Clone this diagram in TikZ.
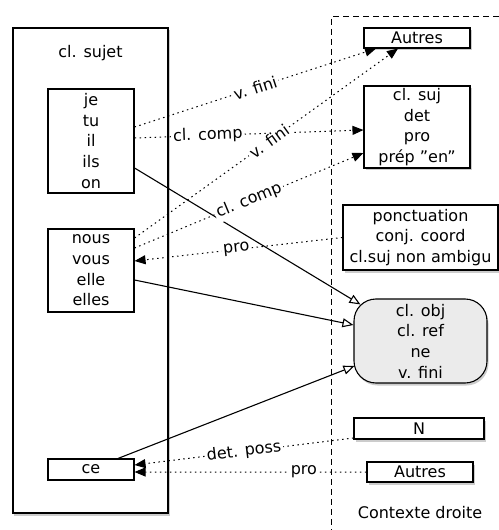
\documentclass[tikz,border=0pt]{standalone}
\usepackage{fontspec}
\setmainfont{DejaVu Sans}
\usetikzlibrary{arrows.meta,shadows}
\tikzset{
  txt/.style={font=\fontsize{16bp}{20.7bp}\selectfont},
  box/.style={txt, draw=black, line width=1.1bp, fill=white, align=center, inner sep=1bp},
  ctx/.style={box, drop shadow={shadow xshift=1.5bp, shadow yshift=-2.5bp, opacity=.4}},
  pron/.style={box, minimum width=86bp},
  dep/.style={dash pattern=on 1.5bp off 3.5bp, line width=1bp, -{Triangle[length=11bp,width=9bp]}},
  link/.style={line width=1.1bp, -{Triangle[open,length=11bp,width=9bp]}},
  lbl/.style={txt, fill=white, inner sep=2bp, sloped}
}
\begin{document}
\begin{tikzpicture}[x=1bp, y=-1bp]
\useasboundingbox (0,0) rectangle (499,530);

% contexte droite
\draw[dash pattern=on 6bp off 4bp, line width=1bp] (499,17) -- (331,17) -- (331,530);
\node[txt] (droite) at (420,513) {Contexte droite};

\node[ctx, minimum width=155bp, minimum height=485bp,
  label={[txt, anchor=north, yshift=-14bp]north:cl. sujet}] (sujet) at (90.5,270.5) {};
\node[pron, minimum height=104bp] (jeBox) at (91,141) {je\\tu\\il\\ils\\on};
\node[pron, minimum height=83bp] (nous) at (91,270.5) {nous\\vous\\elle\\elles};
\node[pron, minimum height=21bp] (ce) at (91,469.5) {ce};

\node[ctx, minimum width=106bp, minimum height=20bp] (autresA) at (417,38) {Autres};
\node[ctx, minimum width=106bp, minimum height=82bp] (clsuj) at (417,127)
  {cl. suj\\det\\pro\\prép "en"};
\node[ctx, minimum width=155bp, minimum height=65bp] (ponct) at (420.5,237.5)
  {ponctuation\\conj. coord\\cl.suj non ambigu};
\node[ctx, fill=gray!16, rounded corners=22bp, minimum width=133bp, minimum height=84bp] (obj)
  at (420.5,341) {cl. obj\\cl. ref\\ne\\v. fini};
\node[ctx, minimum width=130bp, minimum height=21bp] (N) at (419,428.5) {N};
\node[ctx, minimum width=106bp, minimum height=20bp] (autresB) at (420,472) {Autres};

% liens
\draw[link] ([yshift=-27bp]jeBox.east) -- ([xshift=7bp,yshift=-6bp]obj.north west);
\draw[link] ([yshift=-9.5bp]nous.east) -- ([yshift=16bp]obj.west);
\draw[link] ([xshift=27bp]ce.north) -- ([xshift=1bp,yshift=-25bp]obj.west);

\draw[dep] ([yshift=14bp]jeBox.east) -- node[lbl, pos=.5] {v. fini} ([xshift=-41bp]autresA.south);
\draw[dep] ([yshift=3bp]jeBox.east) -- node[lbl, pos=.32] {cl. comp} ([yshift=-3bp]clsuj.west);
\draw[dep] ([yshift=32.5bp]nous.east) -- node[lbl, pos=.51] {v. fini} ([xshift=-19bp]autresA.south);
\draw[dep] ([yshift=22.5bp]nous.east) -- node[lbl, pos=.5] {cl. comp} ([yshift=-26bp]clsuj.west);
\draw[dep] (ponct.west) -- node[lbl, pos=.51] {pro} ([yshift=9.5bp]nous.east);
\draw[dep] ([yshift=-9.5bp]N.west) -- node[lbl, pos=.5] {det. poss} ([yshift=4.5bp]ce.east);
\draw[dep] (autresB.west) -- node[lbl, pos=.27] {pro} ([yshift=-2.5bp]ce.east);
\end{tikzpicture}
\end{document}
